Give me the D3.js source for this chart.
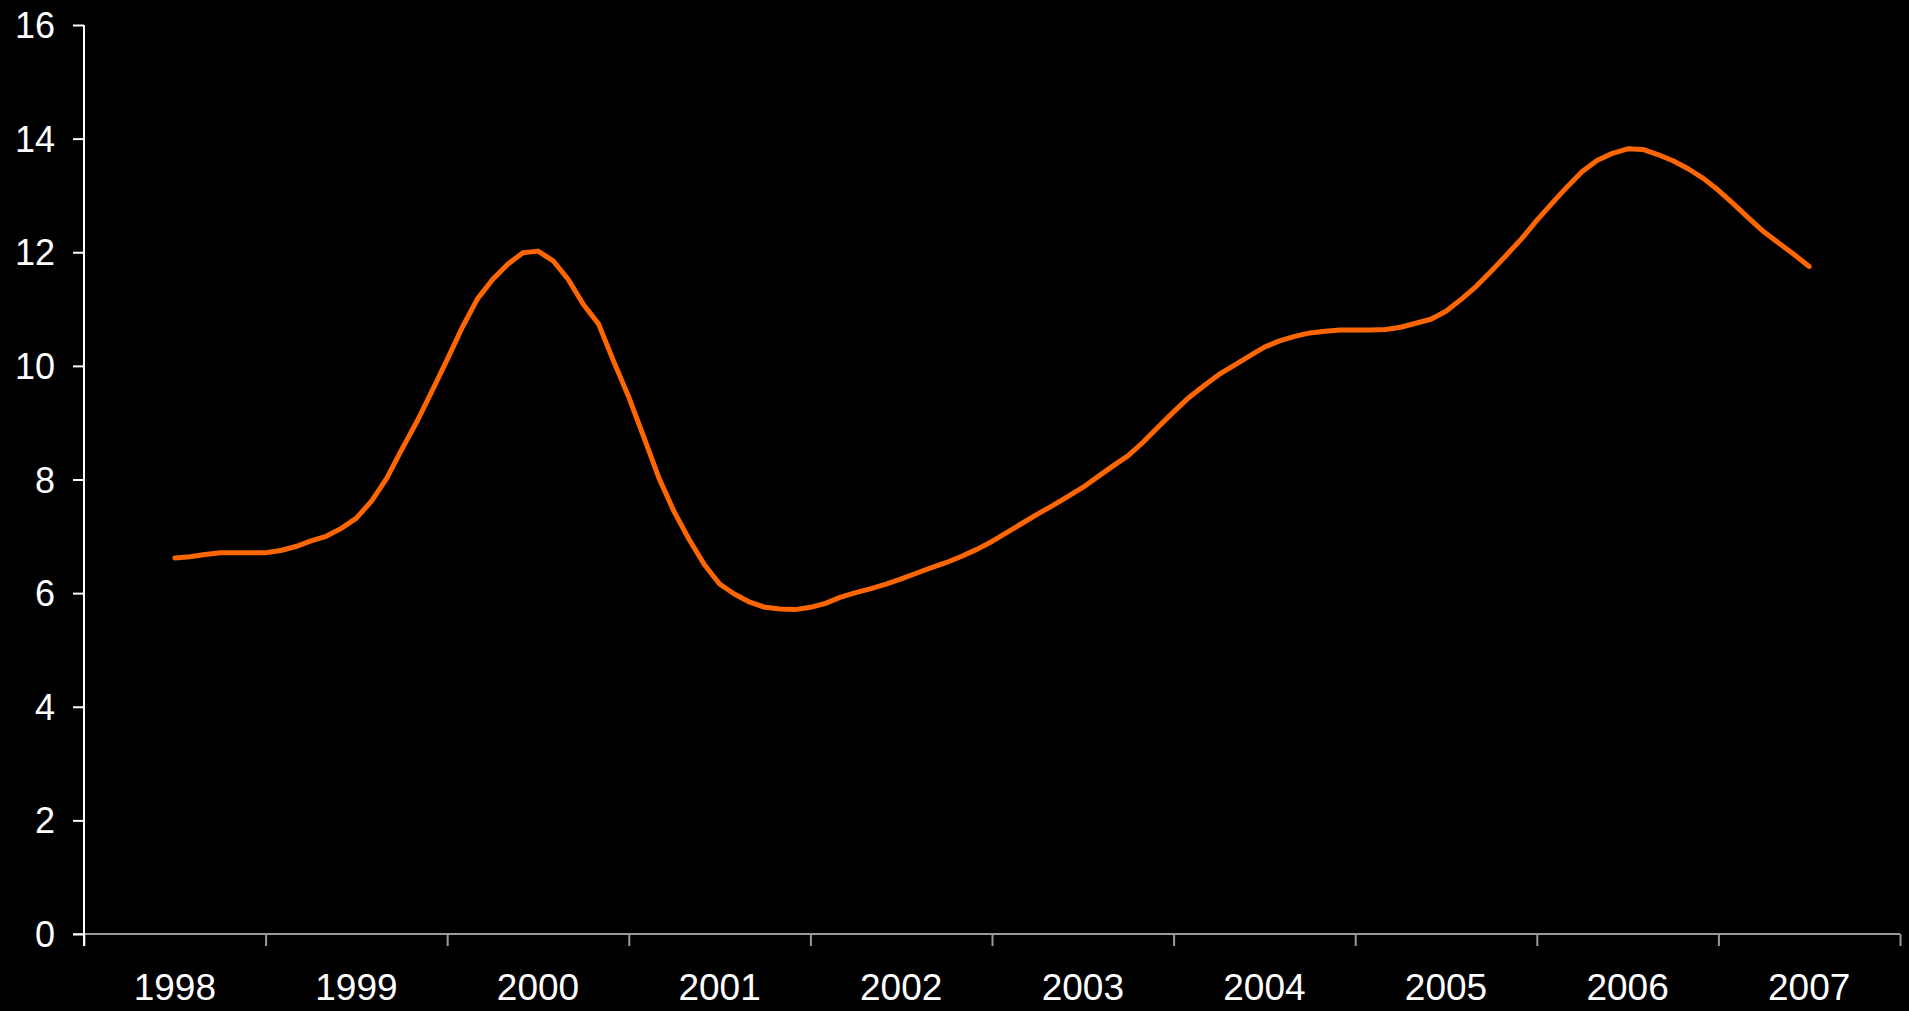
<!DOCTYPE html>
<html>
<head>
<meta charset="utf-8">
<script src="https://cdn.jsdelivr.net/npm/d3@7"></script>
<style>
	html, body { margin: 0; padding: 0; background: #000; }
	svg { display: block; }
	.ylab text, .xlab text { font-family: "Liberation Sans", Arial, sans-serif; font-size: 36px; fill: #fff; }
	.xlab text { font-size: 37px; }
</style>
</head>
<body>
<svg id="chartsvg"></svg>
<script>
//Year categories along the bottom
var years = ["1998","1999","2000","2001","2002","2003","2004","2005","2006","2007"];
//Y axis tick values
var yticks = [0,2,4,6,8,10,12,14,16];
//Monthly series, from mid 1998 to mid 2007
var values = [
	6.62,6.64,6.68,6.71,6.71,6.71,6.71,6.75,6.82,6.92,7.00,7.14,
	7.32,7.62,8.02,8.53,9.02,9.56,10.11,10.68,11.18,11.52,11.79,11.99,
	12.02,11.85,11.52,11.08,10.74,10.08,9.45,8.74,8.02,7.43,6.94,6.50,
	6.16,5.98,5.84,5.75,5.72,5.71,5.75,5.82,5.93,6.01,6.08,6.16,
	6.25,6.35,6.45,6.54,6.65,6.77,6.91,7.07,7.23,7.39,7.54,7.70,
	7.86,8.05,8.24,8.42,8.66,8.93,9.19,9.44,9.65,9.85,10.01,10.17,
	10.33,10.44,10.52,10.58,10.61,10.63,10.63,10.63,10.64,10.68,10.75,10.82,
	10.96,11.17,11.40,11.67,11.95,12.24,12.56,12.86,13.15,13.42,13.62,13.74,
	13.82,13.81,13.72,13.61,13.47,13.30,13.09,12.85,12.60,12.36,12.16,11.96,
	11.75
];

var margin = {top: 25, right: 9, bottom: 77, left: 84},
	width = 1909 - margin.left - margin.right,
	height = 1011 - margin.top - margin.bottom;

var svgcont = d3.select("#chartsvg").attr("width", 1909).attr("height", 1011);
svgcont.append("rect").attr("width", 1909).attr("height", 1011).attr("fill", "#000");

var svg = svgcont.append("g")
	.attr("transform", "translate(" + margin.left + "," + margin.top + ")");

var xband = d3.scaleBand().domain(years).range([0, width]);
var xedge = d3.scaleLinear().domain([0, years.length]).range([0, width]);
var y = d3.scaleLinear().domain([0, 16]).range([height, 0]);
//month index -> position, centre of first year band to centre of last
var xm = d3.scaleLinear().domain([0, values.length - 1])
	.range([xband(years[0]) + xband.bandwidth()/2, xband(years[years.length-1]) + xband.bandwidth()/2]);

//X axis: boundary ticks
var xax = svg.append("g").attr("transform", "translate(0," + height + ")")
	.call(d3.axisBottom(xedge).tickValues(d3.range(years.length + 1)).tickSize(12).tickFormat(""));
xax.select(".domain").remove();
xax.selectAll("line").attr("stroke", "#9a9a9a").attr("stroke-width", 2);
xax.append("line").attr("x1", -11).attr("x2", width).attr("y1", 0).attr("y2", 0)
	.attr("stroke", "#9a9a9a").attr("stroke-width", 2);

//X labels
var xlab = svg.append("g").attr("class", "xlab").attr("transform", "translate(0," + height + ")")
	.call(d3.axisBottom(xband).tickSize(0).tickPadding(0));
xlab.select(".domain").remove();
xlab.selectAll("text").attr("dy", null).attr("y", 66);

//Y axis
var yax = svg.append("g").attr("class", "ylab")
	.call(d3.axisLeft(y).tickValues(yticks).tickSize(11).tickPadding(18));
yax.select(".domain").attr("d", "M0,0V" + (height + 12)).attr("stroke", "#fff").attr("stroke-width", 2);
yax.selectAll("line").attr("stroke", "#fff").attr("stroke-width", 2);
yax.selectAll("text").attr("dy", "0.35em");

//Series line
var line = d3.line().x(function(d, i) { return xm(i); }).y(function(d) { return y(d); });
svg.append("path").datum(values)
	.attr("d", line)
	.attr("fill", "none")
	.attr("stroke", "#ff6600")
	.attr("stroke-width", 5)
	.attr("stroke-linejoin", "round")
	.attr("stroke-linecap", "round");
</script>
</body>
</html>
